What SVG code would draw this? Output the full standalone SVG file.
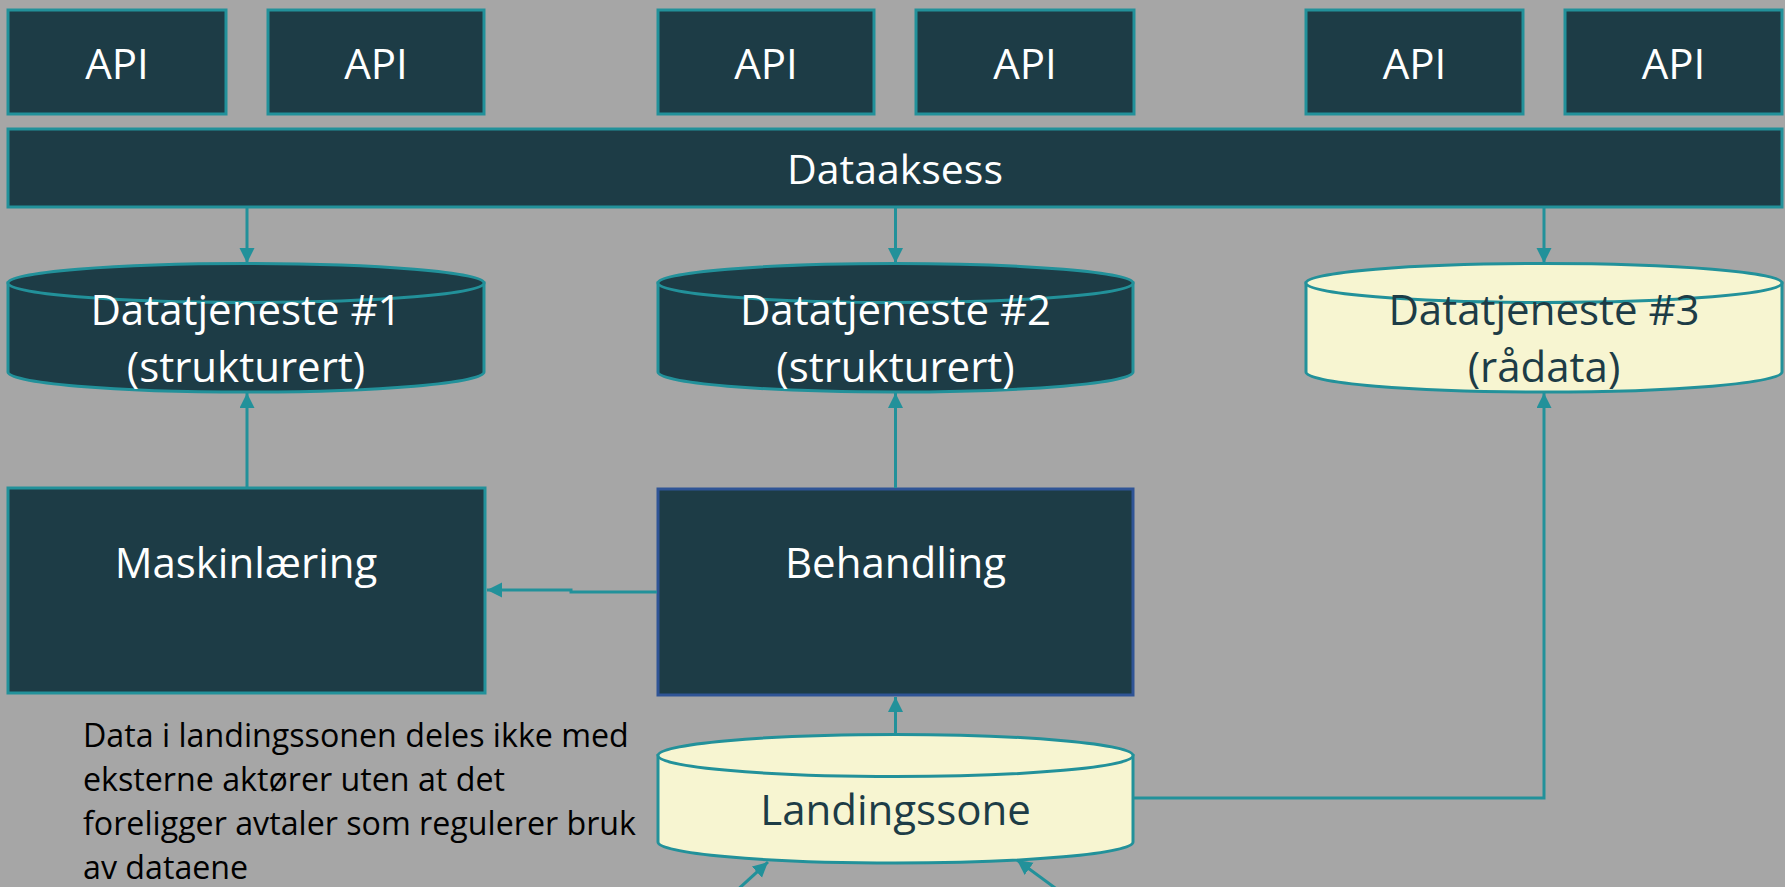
<svg xmlns="http://www.w3.org/2000/svg" width="1785" height="887" viewBox="0 0 1785 887">
<style>
.box{fill:#1D3C46;stroke:#22919A;stroke-width:3}
.blue{stroke:#2F5496}
.cream{fill:#F7F5D1}
.t{font-family:"Open Sans","Noto Sans",sans-serif;font-size:42px;fill:#FFFFFF;text-anchor:middle}
.dk{fill:#1D3C46}
.p{font-family:"Open Sans","Noto Sans",sans-serif;font-size:32.2px;fill:#000000}
.c{fill:none;stroke:#22919A;stroke-width:3}
</style>
<defs>
<marker id="ah" markerUnits="userSpaceOnUse" markerWidth="16" markerHeight="16" refX="15" refY="7.5" orient="auto" viewBox="0 0 16 16">
<path d="M0,0 L15,7.5 L0,15 Z" fill="#22919A"/>
</marker>
</defs>
<rect width="1785" height="887" fill="#A6A6A6"/>

<g id="api1"><rect class="box" x="8" y="10" width="218" height="104"/><text class="t" x="117" y="79">API</text></g>
<g id="api2"><rect class="box" x="268" y="10" width="216" height="104"/><text class="t" x="376" y="79">API</text></g>
<g id="api3"><rect class="box" x="658" y="10" width="216" height="104"/><text class="t" x="766" y="79">API</text></g>
<g id="api4"><rect class="box" x="916" y="10" width="218" height="104"/><text class="t" x="1025" y="79">API</text></g>
<g id="api5"><rect class="box" x="1306" y="10" width="217" height="104"/><text class="t" x="1414.5" y="79">API</text></g>
<g id="api6"><rect class="box" x="1565" y="10" width="217" height="104"/><text class="t" x="1673.5" y="79">API</text></g>

<g id="dataaksess"><rect class="box" x="8" y="129" width="1774" height="78"/><text class="t" x="895" y="184" style="font-size:41px">Dataaksess</text></g>

<g id="dt1">
<path class="box" d="M8,283 L8,372 A238,20 0 0 0 484,372 L484,283 Z"/>
<ellipse class="box" cx="246" cy="283" rx="238" ry="19.5"/>
<text class="t" x="246" y="325">Datatjeneste #1</text>
<text class="t" x="246" y="382">(strukturert)</text>
</g>
<g id="dt2">
<path class="box" d="M658,283 L658,372 A237.5,20 0 0 0 1133,372 L1133,283 Z"/>
<ellipse class="box" cx="895.5" cy="283" rx="237.5" ry="19.5"/>
<text class="t" x="895.5" y="325">Datatjeneste #2</text>
<text class="t" x="895.5" y="382">(strukturert)</text>
</g>
<g id="dt3">
<path class="box cream" d="M1306,283 L1306,372 A238,20 0 0 0 1782,372 L1782,283 Z"/>
<ellipse class="box cream" cx="1544" cy="283" rx="238" ry="19.5"/>
<text class="t dk" x="1544" y="325">Datatjeneste #3</text>
<text class="t dk" x="1544" y="382">(rådata)</text>
</g>

<g id="maskinlaering"><rect class="box" x="8" y="488" width="477" height="205"/><text class="t" x="246" y="578">Maskinlæring</text></g>
<g id="behandling"><rect class="box blue" x="658" y="489" width="475" height="206"/><text class="t" x="895.5" y="578">Behandling</text></g>

<g id="landingssone">
<path class="box cream" d="M658,755.5 L658,842 A237.5,21 0 0 0 1133,842 L1133,755.5 Z"/>
<ellipse class="box cream" cx="895.5" cy="755.5" rx="237.5" ry="21"/>
<text class="t dk" x="895.5" y="825">Landingssone</text>
</g>

<g id="note">
<text class="p" x="83" y="747">Data i landingssonen deles ikke med</text>
<text class="p" x="83" y="791">eksterne aktører uten at det</text>
<text class="p" x="83" y="835">foreligger avtaler som regulerer bruk</text>
<text class="p" x="83" y="879">av dataene</text>
</g>

<g id="connectors">
<path class="c" marker-end="url(#ah)" d="M247,208 L247,263"/>
<path class="c" marker-end="url(#ah)" d="M895.5,208 L895.5,263"/>
<path class="c" marker-end="url(#ah)" d="M1544,208 L1544,263"/>
<path class="c" marker-end="url(#ah)" d="M247,487 L247,393"/>
<path class="c" marker-end="url(#ah)" d="M895.5,488 L895.5,393"/>
<path class="c" marker-end="url(#ah)" d="M895.5,734 L895.5,697"/>
<path class="c" marker-end="url(#ah)" d="M1134,798 L1544,798 L1544,393"/>
<path class="c" marker-end="url(#ah)" d="M657,592 L571,592 L571,590 L487,590"/>
<path class="c" marker-end="url(#ah)" d="M734,893 L768,862"/>
<path class="c" marker-end="url(#ah)" d="M1062,893 L1017,860"/>
</g>
</svg>
